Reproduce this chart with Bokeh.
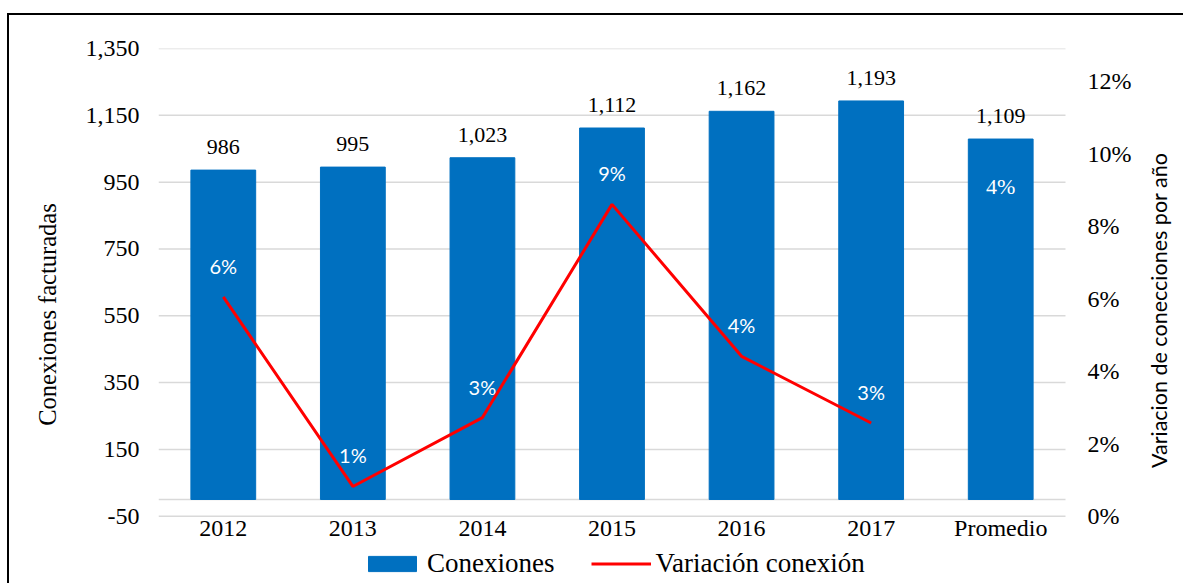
import math
from bokeh.plotting import figure
from bokeh.models import (Range1d, LinearAxis, FixedTicker, NumeralTickFormatter,
                          Legend, LegendItem, ColumnDataSource)
from bokeh.core.properties import value
from bokeh.embed import file_html
from bokeh.resources import INLINE

# ---- data ----
years = ["2012", "2013", "2014", "2015", "2016", "2017", "Promedio"]
conexiones = [986, 995, 1023, 1112, 1162, 1193, 1079]
conexiones_labels = ["986", "995", "1,023", "1,112", "1,162", "1,193", "1,109"]
variacion_years = ["2012", "2013", "2014", "2015", "2016", "2017"]
variacion = [0.0605, 0.0082, 0.0272, 0.0860, 0.0441, 0.0257]
variacion_labels = ["6%", "1%", "3%", "9%", "4%", "3%"]
promedio_label = ["4%"]
left_ticks = [-50, 150, 350, 550, 750, 950, 1150, 1350]
right_ticks = [0, 0.02, 0.04, 0.06, 0.08, 0.10, 0.12]
right_tick_labels = ["0%", "2%", "4%", "6%", "8%", "10%", "12%"]
left_title = "Conexiones facturadas"
right_title = "Variacion de conecciones por año"

SERIF = "Liberation Serif"
SANS = "Lato"

# ---- geometry ----
# value axes span (-50 .. 1350) and (0% .. 12.9%) over AXIS_PX pixels; the frame
# is extended below (category labels, legend) and to the right (right axis texts)
AXIS_PX = 467.7
EXTRA_PX = 64.3
CAT_PX = 907.0 / len(years)
RIGHT_EXTRA_PX = 120.0
LEFT_MIN, LEFT_MAX = -50, 1350
PCT_MAX = 0.129
left_start = LEFT_MIN - EXTRA_PX * (LEFT_MAX - LEFT_MIN) / AXIS_PX
pct_start = -EXTRA_PX * PCT_MAX / AXIS_PX
n_cat = len(years)
x_end = n_cat + RIGHT_EXTRA_PX / CAT_PX

pos = {c: i + 0.5 for i, c in enumerate(years)}
bar_x = [pos[c] for c in years]
line_x = [pos[c] for c in variacion_years]

p = figure(x_range=Range1d(0, x_end), y_range=Range1d(left_start, LEFT_MAX),
           width=1176, height=570, output_backend="svg", toolbar_location=None,
           min_border_left=149, min_border_right=0, min_border_top=33,
           min_border_bottom=5)
p.styles = {"border-top": "2px solid black", "border-left": "2px solid black",
            "margin-top": "13px", "margin-left": "7px"}
p.extra_y_ranges = {"pct": Range1d(pct_start, PCT_MAX)}
p.outline_line_color = None
p.background_fill_color = "white"
p.border_fill_color = "white"
p.xgrid.visible = False
p.ygrid.visible = False
p.xaxis.visible = False

# gridlines (stop at the last category) + category axis line at 0
p.segment(x0=[0] * len(left_ticks), x1=[n_cat] * len(left_ticks),
          y0=left_ticks, y1=left_ticks, line_color="#d9d9d9", line_width=1.5)
p.segment(x0=[0], x1=[n_cat], y0=[0], y1=[0], line_color="#d9d9d9", line_width=1.5)

# left axis
ya = p.yaxis[0]
ya.ticker = FixedTicker(ticks=left_ticks)
ya.formatter = NumeralTickFormatter(format="0,0")
ya.axis_line_color = None
ya.major_tick_line_color = None
ya.minor_tick_line_color = None
ya.major_label_text_font = SERIF
ya.major_label_text_font_size = "24px"
ya.major_label_text_color = "black"
ya.major_label_standoff = 13
ya.axis_label = left_title
ya.axis_label_text_font = SERIF
ya.axis_label_text_font_size = "24.5px"
ya.axis_label_text_font_style = "normal"
ya.axis_label_text_color = "black"
ya.axis_label_standoff = 22

# right value axis: tick labels and title
p.text(x=[n_cat] * len(right_ticks), y=right_ticks, text=right_tick_labels,
       y_range_name="pct", x_offset=22, text_align="left", text_baseline="middle",
       text_font=value(SERIF), text_font_size="24px", text_color="black")
p.text(x=[n_cat], y=[(LEFT_MIN + LEFT_MAX) / 2], text=[right_title],
       x_offset=93, y_offset=28, angle=math.pi / 2,
       text_align="center", text_baseline="middle",
       text_font=value(SANS), text_font_size="21.5px", text_color="black")

# category labels
p.text(x=bar_x, y=[LEFT_MIN] * n_cat, text=years, y_offset=12,
       text_align="center", text_baseline="middle",
       text_font=value(SERIF), text_font_size="24px", text_color="black")

# bars
bsrc = ColumnDataSource(dict(x=bar_x, top=conexiones, lab=conexiones_labels))
bars = p.vbar(x="x", top="top", bottom=0, width=0.5, source=bsrc,
              fill_color="#0070C0", line_color="#0070C0")
p.text(x="x", y="top", text="lab", source=bsrc, y_offset=-23,
       text_align="center", text_baseline="middle",
       text_font=value(SERIF), text_font_size="22px", text_color="black")

# line
lsrc = ColumnDataSource(dict(x=line_x, y=variacion, lab=variacion_labels))
line = p.line(x="x", y="y", source=lsrc, y_range_name="pct",
              line_color="#FF0000", line_width=3)
p.text(x="x", y="y", text="lab", source=lsrc, y_range_name="pct", y_offset=-31,
       text_align="center", text_baseline="middle",
       text_font=value(SANS), text_font_size="20px", text_color="white")

# promedio label
p.text(x=[pos[years[-1]]], y=[conexiones[-1]], text=promedio_label, y_offset=47,
       text_align="center", text_baseline="middle",
       text_font=value(SERIF), text_font_size="22px", text_color="white")

legend = Legend(items=[LegendItem(label="Conexiones", renderers=[bars]),
                       LegendItem(label="Variación conexión", renderers=[line])],
                orientation="horizontal", location=(204, 1))
legend.background_fill_alpha = 0
legend.border_line_color = None
legend.label_text_font = SERIF
legend.label_text_font_size = "27px"
legend.label_text_color = "black"
legend.glyph_width = 60
legend.glyph_height = 19
legend.label_height = 15
legend.spacing = 36
legend.label_standoff = 5
legend.padding = 0
legend.margin = 0
p.add_layout(legend)

open("out.html", "w").write(file_html(p, INLINE))
